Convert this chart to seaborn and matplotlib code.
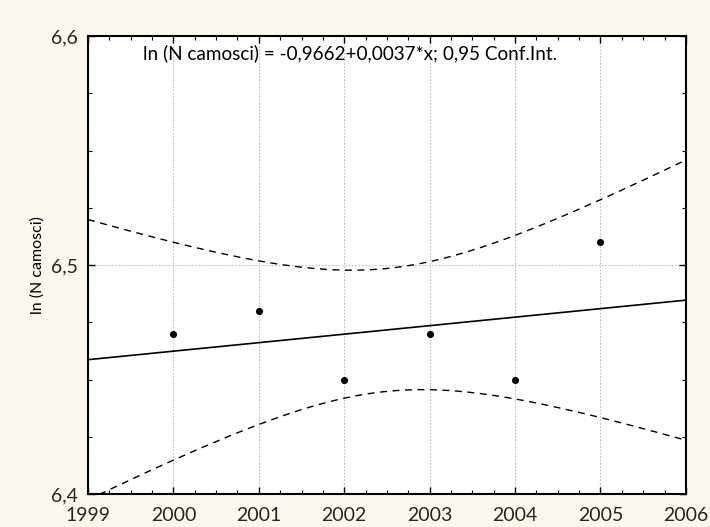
import numpy as np
import pandas as pd
import matplotlib
matplotlib.use("Agg")
import matplotlib.pyplot as plt
from matplotlib.ticker import MultipleLocator, FuncFormatter
import seaborn as sns

# Observed values
years = [2000, 2001, 2002, 2003, 2004, 2005]
ln_camosci = [6.47, 6.48, 6.45, 6.47, 6.45, 6.51]
x_ticks = [1999, 2000, 2001, 2002, 2003, 2004, 2005, 2006]
y_ticks = [6.4, 6.5, 6.6]

sns.set_theme(style="white")
plt.rcParams["font.family"] = ["Lato", "DejaVu Sans"]

df = pd.DataFrame({"anno": years, "ln": ln_camosci})

# Least-squares fit with 95% confidence band for the mean
x = np.asarray(years, dtype=float)
y = np.asarray(ln_camosci, dtype=float)
n = len(x)
slope, intercept = np.polyfit(x, y, 1)
resid = y - (intercept + slope * x)
s = np.sqrt(np.sum(resid ** 2) / (n - 2))
t_crit = 2.7764451  # Student t, 0.975 quantile, 4 d.f.
sxx = np.sum((x - x.mean()) ** 2)
xs = np.linspace(1999, 2006, 300)
fit = intercept + slope * xs
half = t_crit * s * np.sqrt(1.0 / n + (xs - x.mean()) ** 2 / sxx)
band = pd.DataFrame({"x": xs, "fit": fit, "lo": fit - half, "hi": fit + half})

fig = plt.figure(figsize=(7.10, 5.27), dpi=100, facecolor="#fdf8ec")
ax = fig.add_axes([0.124, 0.0626, 0.842, 0.869])
ax.set_facecolor("white")

sns.lineplot(data=band, x="x", y="fit", ax=ax, color="black", lw=1.2)
sns.lineplot(data=band, x="x", y="hi", ax=ax, color="black", lw=1.0,
             linestyle=(0, (5, 4)))
sns.lineplot(data=band, x="x", y="lo", ax=ax, color="black", lw=1.0,
             linestyle=(0, (5, 4)))
sns.scatterplot(data=df, x="anno", y="ln", ax=ax, color="black", s=26,
                edgecolor="black", linewidth=0, zorder=5)

ax.set_xlim(1999, 2006)
ax.set_ylim(6.4, 6.6)
ax.set_xticks(x_ticks)
ax.set_yticks(y_ticks)
ax.xaxis.set_minor_locator(MultipleLocator(0.25))
ax.yaxis.set_minor_locator(MultipleLocator(0.025))
ax.yaxis.set_major_formatter(FuncFormatter(lambda v, p: f"{v:.1f}".replace(".", ",")))
ax.xaxis.set_major_formatter(FuncFormatter(lambda v, p: f"{int(round(v))}"))

ax.grid(True, which="major", color="#c0c0c0", linestyle=(0, (1.5, 1.5)), lw=0.8)
ax.tick_params(which="both", direction="in", top=True, right=True,
               bottom=True, left=True, color="black")
ax.tick_params(which="major", length=5, width=1, labelsize=14)
ax.tick_params(axis="x", which="major", pad=9)
ax.tick_params(axis="y", which="major", pad=7)
ax.tick_params(which="minor", length=3, width=0.8)
for sp in ax.spines.values():
    sp.set_color("black")
    sp.set_linewidth(1.5)

ax.set_xlabel("")
ax.set_ylabel("ln (N camosci)", fontsize=11.5, labelpad=5, color="black")

eq = f"ln (N camosci) = {intercept:.4f}+{slope:.4f}*x; 0,95 Conf.Int."
eq = eq.replace(f"{intercept:.4f}", f"{intercept:.4f}".replace(".", ","))
eq = eq.replace(f"{slope:.4f}", f"{slope:.4f}".replace(".", ","))
ax.text(0.092, 0.963, eq, transform=ax.transAxes, ha="left", va="center",
        fontsize=13.6, color="black")

fig.savefig("out.png", dpi=100, facecolor=fig.get_facecolor())
